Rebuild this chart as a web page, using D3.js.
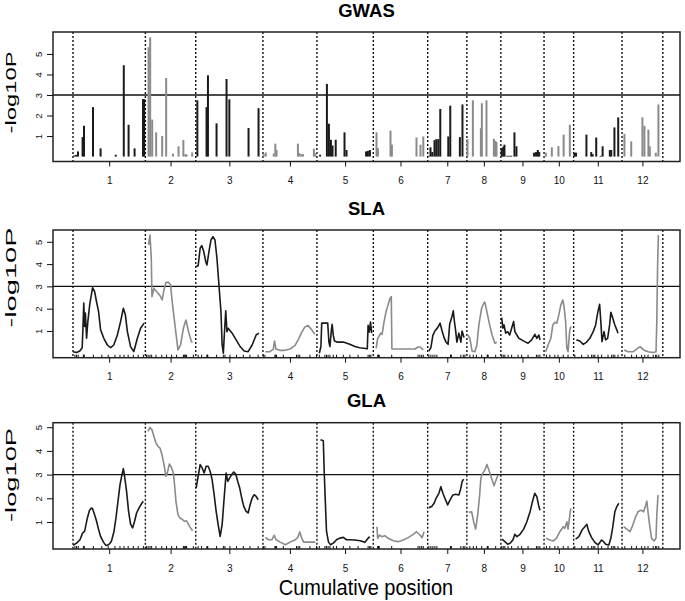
<!DOCTYPE html>
<html><head><meta charset="utf-8">
<script src="https://cdn.jsdelivr.net/npm/d3@7"></script>
<style>body{margin:0;background:#fff}svg{display:block}text{font-family:"Liberation Sans",Arial,sans-serif}</style>
</head><body><svg id="c" width="685" height="601"></svg>
<script>
// ---------------- data ----------------
const chromosomes = ["1","2","3","4","5","6","7","8","9","10","11","12"];
const chrLengths = [181,126,168,135,141,136,98,85,108,74,121,102];
const yTicks = [1,2,3,4,5];
const threshold = 3;

// GWAS: cumulative position, -log10P
const gwasPos = [2.5,7.5,12.5,24,27.5,50,69,107,127,139,154,175,178,
 189,193,198,208,223,233,250,264,276,281,284,298,
 311,334,337.5,359,384,391,439,464,
 477,482,502,506,509,562.5,566,571,575,602.5,606,
 618,635,640,645,649,657,679,684,733,737.5,742.5,
 759,762.5,794,797.5,859,869,876,
 889,894,898.5,904,908.5,913.5,918.5,938.5,943.5,967.5,974,
 986.5,1000,1020,1022.5,1034,1052.5,1056,1059,
 1072,1076,1079,1086,1091,1096,1104,1109,1153,1158,1162.5,1166,
 1182.5,1197.5,1214,1227,1242.5,
 1254,1258,1284,1296,1299.5,1308.5,1319.5,1324.5,1342.5,1346,1354,1363.5,
 1379,1396,1424,1429,1439,1442.5,1457.5,1464];
const gwasP = [0.05,0.08,0.25,0.95,1.5,2.41,0.4,0.09,4.45,1.55,0.4,2.8,2.8,
 5.33,5.81,1.8,1.18,1.0,3.83,0.14,0.5,0.81,0.12,0.1,0.2,
 2.74,2.41,3.96,1.62,3.78,2.79,1.39,2.36,
 0.12,0.2,0.15,0.63,0.33,0.63,0.17,0.12,0.12,0.38,0.15,
 0.09,3.54,1.6,0.82,0.54,0.82,1.18,0.32,0.25,0.28,0.32,
 1.18,0.41,1.26,0.58,0.93,0.58,0.98,
 0.04,0.45,0.22,0.8,0.85,0.85,2.32,0.98,2.48,0.95,2.54,
 0.85,2.74,1.38,2.6,2.74,0.87,0.77,0.71,
 0.41,0.48,0.58,0.04,0.04,0.04,1.18,0.5,0.19,0.22,0.32,0.22,
 0.19,0.45,0.51,1.07,1.55,
 0.19,0.19,1.07,0.22,0.12,0.93,0.04,0.5,0.32,0.32,1.42,1.91,
 1.11,0.74,1.91,1.5,1.31,0.5,0.19,2.54];

// SLA profile per chromosome: [cumulative position, -log10P]
const slaProfile = [
 [[0,0.07],[9,0.03],[17,0.1],[23,0.25],[25,1.2],[27,2.25],[29,1.2],[31,1.8],[34,0.67],[37,1.4],[42,2.2],[49,2.94],[54,2.77],[59,2.3],[64,1.87],[69,1.05],[77,0.67],[86,0.37],[94,0.25],[102,0.37],[111,0.82],[119,1.42],[126,2.02],[131,1.72],[136,0.97],[144,0.3],[152,0.07],[161,0.67],[169,1.12],[178,1.35]],
 [[189,4.86],[192.5,5.3],[195.8,4.26],[197.5,2.54],[202.5,2.91],[209,2.77],[217.5,2.59],[223,2.39],[227.5,2.84],[232.5,3.18],[239,3.18],[244,3.06],[249,2.17],[256,1.12],[262.5,0.15],[269,0.37],[276,1.12],[282.5,1.49],[289,0.97],[296,0.52],[299,0.49]],
 [[308,3.89],[313,3.93],[318,4.71],[322,4.83],[327,4.56],[332,4.11],[335,3.96],[340,4.56],[345,5.08],[350,5.23],[355,5.08],[360,4.26],[365,3.06],[370,1.87],[373,0.37],[376,0.0],[378,0.67],[382,1.9],[385,0.97],[388,1.12],[398,0.9],[408,0.6],[418,0.3],[428,0.1],[438,0.07],[448,0.37],[458,0.82],[465,0.9]],
 [[481,0.07],[492.5,0.07],[501,0.19],[504,0.55],[507.5,0.19],[517.5,0.13],[530,0.13],[542.5,0.19],[555,0.34],[563,0.6],[572,0.94],[580,1.18],[588,1.24],[597,1.05],[605,0.85]],
 [[616,0.0],[620,0.3],[622,1.35],[630,1.35],[637,1.35],[640,0.5],[642.5,0.3],[646,1.0],[648,1.3],[651,0.8],[654,0.55],[660,0.5],[676,0.5],[692,0.4],[705,0.3],[717,0.25],[736,0.2],[738,1.25],[741,0.95],[744,1.4],[747,0.9]],
 [[758,0.22],[762,0.67],[767,0.82],[770,0.9],[773,0.85],[778,1.42],[783,1.87],[788,2.17],[793,2.47],[796,2.54],[797.5,0.19],[855,0.19],[863,0.28],[868,0.28],[876,0.15]],
 [[890,0.1],[895,0.25],[900,0.8],[905,1.0],[912,1.15],[918,1.35],[923,1.0],[928,0.7],[933,0.5],[938,0.4],[942,1.3],[947,1.6],[951,1.9],[954,1.4],[957,1.0],[960,0.5],[965,0.9],[970,0.5],[973,1.0],[978,0.7]],
 [[987,0.82],[992.5,0.67],[998,0.1],[1005,0.07],[1010,0.37],[1015,1.27],[1022,2.02],[1027,2.24],[1030,2.29],[1035,1.87],[1042,1.27],[1048,0.82],[1055,0.45],[1060,0.49]],
 [[1072,1.6],[1075,1.12],[1078,1.27],[1082,0.9],[1087,0.97],[1092,0.82],[1097,1.12],[1102,1.42],[1105,0.97],[1110,0.82],[1115,0.67],[1122,0.6],[1130,0.52],[1138,0.45],[1147,0.6],[1155,0.85],[1160,0.67],[1165,0.82],[1168,0.6]],
 [[1182,0.07],[1188,0.37],[1195,0.67],[1200,1.27],[1205,1.39],[1210,1.35],[1215,1.72],[1220,2.17],[1225,2.39],[1228,2.09],[1232,1.42],[1235,0.22],[1238,0.07],[1242,0.97],[1245,1.2]],
 [[1259,0.6],[1267.5,0.55],[1276,0.4],[1284,0.49],[1292.5,0.67],[1301,0.97],[1307,1.27],[1312,1.8],[1317,2.2],[1320,1.42],[1323,0.52],[1328,0.97],[1332,0.6],[1337,0.67],[1342,1.27],[1345,1.84],[1350,1.57],[1355,1.27],[1360,1.05],[1363,0.9]],
 [[1378,0.15],[1388,0.07],[1401,0.07],[1412,0.22],[1418,0.3],[1427,0.15],[1438,0.07],[1451,0.03],[1458,0.07],[1460,1.42],[1462,3.96],[1464,5.3]]
];

// GLA profile per chromosome
const glaProfile = [
 [[0,0.01],[9,0.11],[17.5,0.25],[24,0.53],[29,0.6],[32.5,0.89],[36,1.17],[41,1.48],[46,1.59],[49,1.56],[54,1.31],[59,1.03],[64,0.68],[69,0.39],[76,0.15],[82.5,0.01],[89,0.04],[96,0.18],[102.5,0.6],[107.5,1.17],[112.5,1.87],[117.5,2.57],[122.5,3.0],[126,3.25],[129,2.93],[134,2.29],[139,1.45],[144,0.91],[149,0.75],[154,1.03],[159,1.38],[166,1.62],[172.5,1.8],[176,1.87]],
 [[187.5,4.82],[192.5,4.99],[197.5,4.89],[202.5,4.61],[207.5,4.33],[212.5,4.19],[217.5,4.12],[222.5,3.84],[227.5,3.42],[232.5,2.93],[236,3.07],[241,3.45],[246,3.31],[251,3.07],[254,2.57],[257.5,1.87],[262.5,1.31],[267.5,1.17],[274,1.1],[279,1.03],[284,1.05],[289,0.89],[294,0.75],[299,0.63]],
 [[308,2.43],[313,2.93],[318,3.42],[323,3.28],[328,3.07],[333,3.35],[338,3.35],[343,3.14],[348,2.78],[353,2.15],[358,1.45],[363,0.89],[368,0.39],[373,0.89],[378,2.01],[383,3.07],[387,2.71],[392,2.86],[397,3.0],[402,3.11],[407,3.02],[412,2.71],[417,2.43],[422,2.01],[427,1.66],[433,1.45],[438,1.38],[443,1.73],[448,2.01],[453,2.15],[458,2.08],[463,1.94]],
 [[481,0.35],[489,0.25],[497.5,0.25],[503,0.44],[508,0.25],[518,0.15],[531,0.04],[543,0.15],[556,0.25],[562,0.35],[567,0.58],[572,0.32],[577,0.15],[589,0.15],[606,0.15]],
 [[619,4.47],[626,4.43],[628,3.25],[631,1.87],[634,0.6],[639,0.15],[644,0.04],[651,0.11],[659,0.25],[667,0.32],[676,0.35],[684,0.25],[692,0.25],[705,0.24],[718,0.21],[730,0.14],[738,0.31],[742,0.38]],
 [[760,0.8],[762,0.31],[767,0.45],[772,0.38],[780,0.42],[788,0.31],[801,0.21],[813,0.17],[826,0.24],[838,0.34],[851,0.48],[859,0.59],[867.5,0.45],[873,0.34],[878,0.59]],
 [[890,1.6],[897,1.65],[903,1.79],[908,2.0],[915,2.21],[920,2.49],[925,2.21],[930,2.0],[937,1.72],[943,1.93],[950,2.14],[957,2.17],[965,2.14],[970,2.43],[973,2.7],[977,2.81]],
 [[990,1.41],[997,1.43],[1002,1.01],[1007,0.7],[1012,1.29],[1017,2.14],[1020,2.84],[1023,3.01],[1030,3.19],[1035,3.43],[1040,3.19],[1047,2.84],[1053,2.53],[1058,2.77],[1063,2.98]],
 [[1073,0.28],[1080,0.17],[1087,0.06],[1093,0.1],[1100,0.24],[1105,0.48],[1110,0.38],[1118,0.48],[1127,0.7],[1135,1.01],[1143,1.43],[1150,1.93],[1155,2.21],[1160,2.07],[1165,1.65],[1168,1.5]],
 [[1183,0.31],[1192.5,0.24],[1201,0.2],[1209,0.31],[1217.5,0.59],[1226,0.8],[1230,0.73],[1235,1.01],[1238,0.7],[1242,1.22],[1245,1.58]],
 [[1257,0.28],[1265,0.38],[1273,0.66],[1280,0.8],[1285,0.9],[1290,0.59],[1297,0.34],[1305,0.14],[1313,0.03],[1322,0.24],[1327,0.17],[1332,0.06],[1340,0.03],[1345,0.31],[1350,0.8],[1355,1.43],[1360,1.65],[1365,1.79]],
 [[1377,0.8],[1385,0.7],[1393,0.59],[1400,0.87],[1407,1.22],[1413,1.43],[1420,1.5],[1427,1.43],[1432,1.69],[1435,1.88],[1438,1.43],[1442,0.87],[1447,0.31],[1453,0.2],[1458,0.31],[1460,1.29],[1463,2.14]]
];

// marker positions (rug), cumulative
const markers = [5,9,13,26,27,28,51,72,88,105,117.5,127.5,138,151,163,176,184,188,192.5,196.7,207.5,222,234,246.7,259,276,278,280,282,284,301,313,321.7,335,336,337,359,376,380,392.5,409,426,442.5,463,476,480,505,507,509,526,559,563,567,592.5,609,616,630,634,638,642.5,651,659,676,692.5,713,738,742,745,762,764,766,797,863,867.5,872,876,890,895,900,905,910,944,945,946,970,976,980,992.5,1001,1009,1022,1036,1037,1038,1057,1072,1076,1080,1088,1097,1113,1122,1138,1159,1163,1167.5,1184,1192.5,1205,1213,1226,1238,1255,1272,1288,1297,1301,1305,1313,1322,1338,1347,1351,1355,1363,1380,1397,1409,1422,1430,1438,1451,1457,1460,1465];

// ---------------- layout ----------------
const svg = d3.select("#c");
const L = 53, R = 680;
const bounds = [0]; chrLengths.forEach((l,i)=>bounds.push(bounds[i]+l));
const mids = chrLengths.map((l,i)=>bounds[i]+l/2);
const x = d3.scaleLinear().domain([-50, 1518]).range([L, R]);
const colorOf = i => (i % 2 === 0) ? "#1a1a1a" : "#8a8a8a";
const chrIndex = p => Math.max(0, d3.bisectRight(bounds, p) - 1);

const panels = [
  {title:"GWAS", top:32, bottom:161.5, dom:[-0.24,6.07], ylabC:92.5, ylabLen:82, kind:"bar"},
  {title:"SLA", top:230, bottom:357.7, dom:[-0.2,5.53], ylabC:277.5, ylabLen:100, kind:"line", data:slaProfile},
  {title:"GLA", top:422.7, bottom:549, dom:[-0.14,5.19], ylabC:475, ylabLen:94, kind:"line", data:glaProfile}
];

panels.forEach(p => {
  const y = d3.scaleLinear().domain(p.dom).range([p.bottom, p.top]);
  const g = svg.append("g");

  // title
  g.append("text").attr("x", (L+R)/2).attr("y", p.top - 15.5)
    .attr("text-anchor","middle").attr("font-weight","bold").attr("font-size",18.5).text(p.title);

  // y label
  g.append("text").attr("transform", `translate(16,${p.ylabC}) rotate(-90)`)
    .attr("text-anchor","middle").attr("font-size",15)
    .attr("textLength", p.ylabLen).attr("lengthAdjust","spacingAndGlyphs").text("-log10P");

  // chromosome separators
  g.selectAll(".sep").data(bounds).enter().append("line")
    .attr("x1", d=>x(d)).attr("x2", d=>x(d)).attr("y1", p.top).attr("y2", p.bottom)
    .attr("stroke","#111").attr("stroke-width",1.4).attr("stroke-dasharray","2,2");

  // threshold line
  g.append("line").attr("x1",L).attr("x2",R).attr("y1",y(threshold)).attr("y2",y(threshold))
    .attr("stroke","#111").attr("stroke-width",1.4);

  if (p.kind === "bar") {
    const bars = gwasPos.map((pos,i)=>({pos, v:gwasP[i], c:chrIndex(pos)}));
    g.selectAll(".bar").data(bars).enter().append("line")
      .attr("x1", d=>x(d.pos)).attr("x2", d=>x(d.pos))
      .attr("y1", y(0)).attr("y2", d=>y(d.v))
      .attr("stroke", d=>colorOf(d.c)).attr("stroke-width",2);
  } else {
    const line = d3.line().x(d=>x(d[0])).y(d=>y(d[1]));
    p.data.forEach((seg,i)=>{
      g.append("path").attr("d", line(seg)).attr("fill","none")
        .attr("stroke", colorOf(i)).attr("stroke-width",1.6).attr("stroke-linejoin","round");
    });
    g.selectAll(".rug").data(markers).enter().append("line")
      .attr("x1", d=>x(d)).attr("x2", d=>x(d)).attr("y1", p.bottom).attr("y2", p.bottom-3)
      .attr("stroke","#111").attr("stroke-width",1);
  }

  // box
  g.append("rect").attr("x",L).attr("y",p.top).attr("width",R-L).attr("height",p.bottom-p.top)
    .attr("fill","none").attr("stroke","#222").attr("stroke-width",1.5);

  // x axis
  const xa = d3.axisBottom(x).tickValues(mids).tickFormat((d,i)=>chromosomes[i]).tickSize(5).tickPadding(8);
  const gx = g.append("g").attr("transform",`translate(0,${p.bottom})`).call(xa);
  gx.select(".domain").remove();
  gx.selectAll("line").attr("stroke","#111").attr("stroke-width",1);
  gx.selectAll("text").attr("font-size",10).attr("font-family","Liberation Sans, Arial, sans-serif")
    .attr("fill","#111").attr("dy",null).attr("y",22.5);

  // y axis
  const ya = d3.axisLeft(y).tickValues(yTicks).tickFormat(d3.format("d")).tickSize(6);
  const gy = g.append("g").attr("transform",`translate(${L},0)`).call(ya);
  gy.select(".domain").remove();
  gy.selectAll("line").attr("stroke","#111").attr("stroke-width",1);
  gy.selectAll("text").attr("font-size",9.5).attr("font-family","Liberation Sans, Arial, sans-serif")
    .attr("fill","#111").attr("x",null).attr("dy",null)
    .attr("transform","translate(-11,0) rotate(-90)").attr("text-anchor","middle");
});

svg.append("text").attr("transform","translate(366,595) scale(1,1.12)").attr("text-anchor","middle")
  .attr("font-size",20).text("Cumulative position");
</script></body></html>
